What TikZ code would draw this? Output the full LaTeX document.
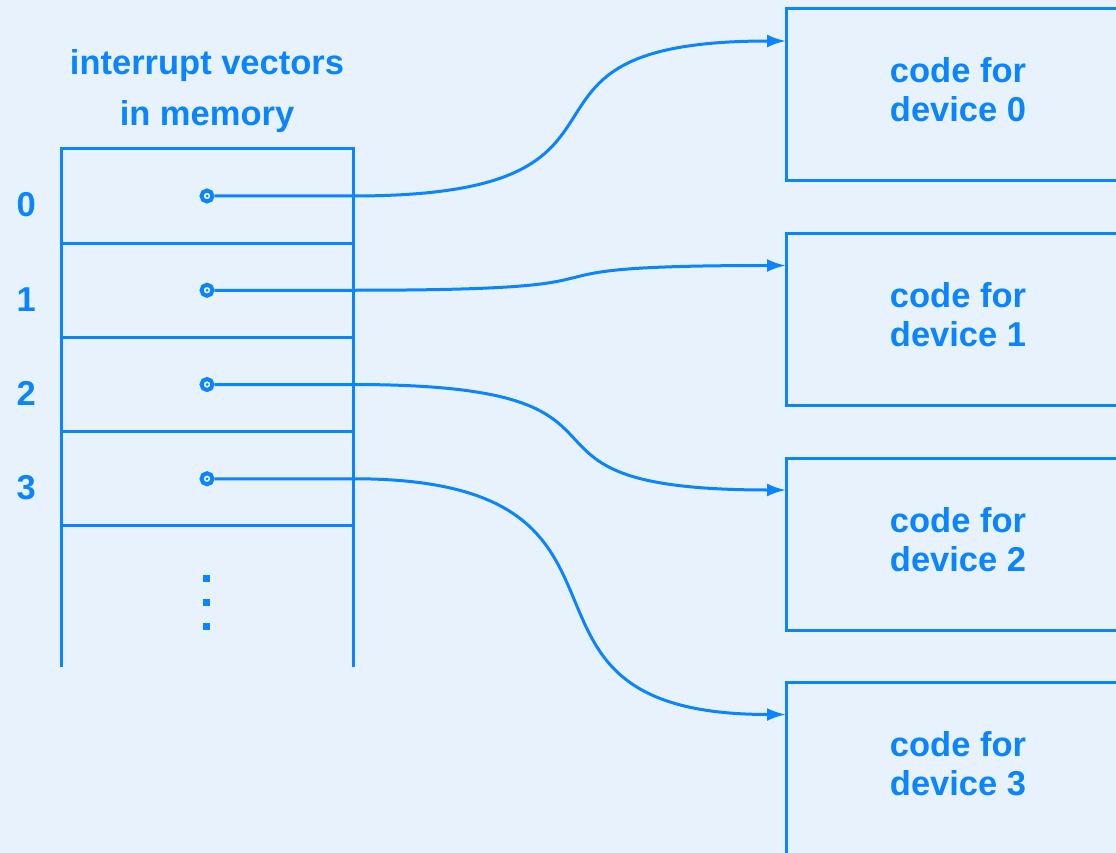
\documentclass[tikz,border=0pt]{standalone}
\usepackage{fontspec}
\setmainfont{Liberation Sans}
\usetikzlibrary{positioning,arrows.meta}
\definecolor{inkcol}{HTML}{0A84FF}
\definecolor{bgcol}{HTML}{E8F2FC}

\begin{document}
\begin{tikzpicture}[x=1pt,y=-1pt,
   font=\fontsize{34.5}{39}\selectfont\bfseries,
   cell/.style={draw=inkcol,line width=3pt,minimum width=292pt,minimum height=94.25pt,
              outer sep=0pt,inner sep=0pt},
   dev/.style={draw=inkcol,line width=3pt,minimum width=344pt,minimum height=172pt,
              align=center,outer sep=0pt,text=inkcol,text depth=10pt},
   ptr/.style={circle,draw=inkcol,line width=4pt,minimum size=11pt,inner sep=0pt,
              path picture={\fill[inkcol] (path picture bounding box.center) circle (1.5pt);}},
   num/.style={text=inkcol,inner sep=0pt},
   wire/.style={draw=inkcol,line width=3pt,-{Latex[length=19pt,width=13pt]}},
   node distance=52.5pt,
]
\fill[bgcol] (0,0) rectangle (1116,853);
\useasboundingbox (0,0) rectangle (1116,853);
\clip (0,0) rectangle (1116,853);

% vector table
\node[cell] (cell0) at (207,196) {};
\node[cell,below=0pt of cell0] (cell1) {};
\node[cell,below=0pt of cell1] (cell2) {};
\node[cell,below=0pt of cell2] (cell3) {};
\coordinate (tailend) at (207,667);
\draw[inkcol,line width=3pt] (cell3.south west) -- (cell3.south west |- tailend);
\draw[inkcol,line width=3pt] (cell3.south east) -- (cell3.south east |- tailend);
\foreach \yy in {578,602,626}
   \fill[inkcol] (202.5,\yy-3.5) rectangle +(7,7);

\node[num,align=center,font=\fontsize{34.5}{51}\selectfont\bfseries,above=16pt of cell0]
       (hdr) {interrupt vectors\\in memory};

% vector numbers
\node[num,left=25pt of cell0,yshift=-9pt] (n0) {0};
\node[num,left=25pt of cell1,yshift=-9pt] (n1) {1};
\node[num,left=25pt of cell2,yshift=-9pt] (n2) {2};
\node[num,left=25pt of cell3,yshift=-9pt] (n3) {3};

% pointers
\node[ptr] (ptr0) at (cell0.center) {};
\node[ptr] (ptr1) at (cell1.center) {};
\node[ptr] (ptr2) at (cell2.center) {};
\node[ptr] (ptr3) at (cell3.center) {};

% handler code
\node[dev] (dev0) at (958,95) {code for\\device 0};
\node[dev,below=of dev0] (dev1) {code for\\device 1};
\node[dev,below=of dev1] (dev2) {code for\\device 2};
\node[dev,below=of dev2] (dev3) {code for\\device 3};
\coordinate (in0) at ([yshift=-32pt]dev0.north west);
\coordinate (in1) at ([yshift=-32pt]dev1.north west);
\coordinate (in2) at ([yshift=-32pt]dev2.north west);
\coordinate (in3) at ([yshift=-32pt]dev3.north west);

% wires
\draw[wire] (ptr0) -- (ptr0 -| cell0.east) .. controls +(333,0) and +(-318,0) .. (in0);
\draw[wire] (ptr1) -- (ptr1 -| cell1.east) .. controls +(333,0) and +(-318,0) .. (in1);
\draw[wire] (ptr2) -- (ptr2 -| cell2.east) .. controls +(333,0) and +(-318,0) .. (in2);
\draw[wire] (ptr3) -- (ptr3 -| cell3.east) .. controls +(333,0) and +(-318,0) .. (in3);
\end{tikzpicture}
\end{document}
